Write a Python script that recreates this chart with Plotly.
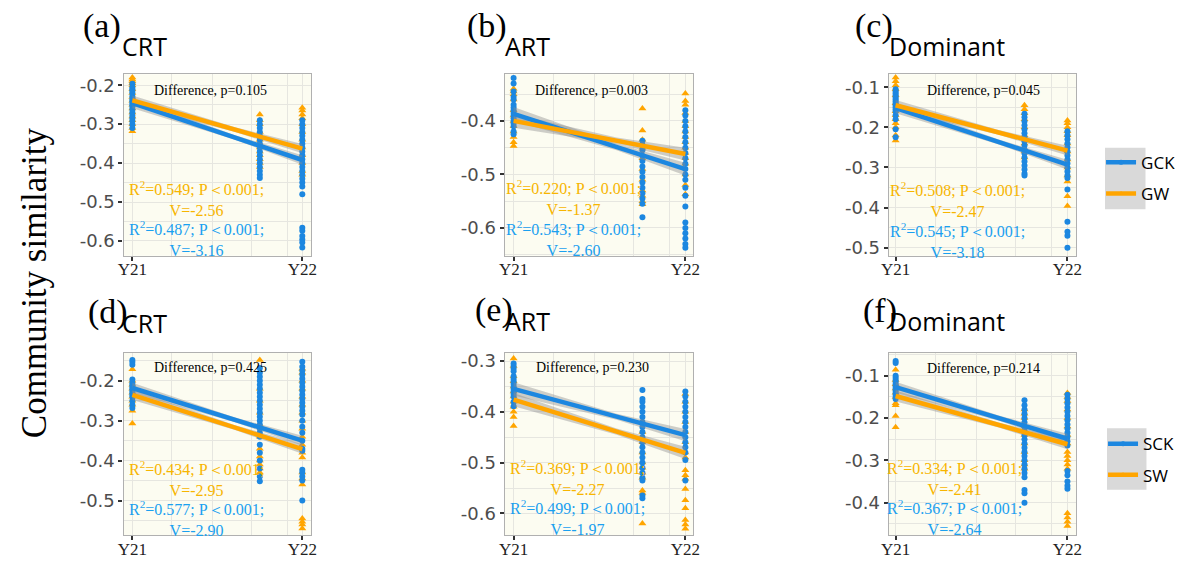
import plotly.graph_objects as go

# ---------------- data ----------------
X_POS = [0.0, 0.75, 1.0]          # sampling times: Y21, intermediate, Y22
X_TICKVALS = [0, 1]
X_TICKTEXT = ["Y21", "Y22"]

# panel (a) CRT, grassland
a_GCK_Y21 = [-0.196, -0.205, -0.21, -0.215, -0.22, -0.228, -0.235, -0.24, -0.245, -0.25, -0.255, -0.262, -0.27, -0.278, -0.285, -0.292, -0.3, -0.31]
a_GCK_MID = [-0.29, -0.3, -0.31, -0.32, -0.33, -0.34, -0.35, -0.36, -0.37, -0.38, -0.39, -0.4, -0.41, -0.42, -0.43, -0.438]
a_GCK_Y22 = [-0.29, -0.30, -0.31, -0.32, -0.33, -0.34, -0.35, -0.36, -0.37, -0.38, -0.39, -0.40, -0.41, -0.42, -0.43, -0.44, -0.45, -0.46, -0.48, -0.566, -0.574, -0.587, -0.596, -0.604, -0.617]
a_GW_Y21 = [-0.18, -0.185, -0.19, -0.195, -0.2, -0.21, -0.22, -0.23, -0.24, -0.25, -0.26, -0.27, -0.28, -0.29, -0.3, -0.31, -0.318]
a_GW_MID = [-0.275, -0.29, -0.30, -0.32, -0.34, -0.35, -0.36, -0.37, -0.38, -0.39, -0.40, -0.41]
a_GW_Y22 = [-0.258, -0.265, -0.275, -0.285, -0.3, -0.32, -0.34, -0.36, -0.38, -0.4, -0.42, -0.43]
a_GCK_fit = [-0.246, -0.392]
a_GW_fit = [-0.239, -0.363]

# panel (b) ART, grassland
b_GCK_Y21 = [-0.32, -0.33, -0.345, -0.355, -0.36, -0.37, -0.375, -0.38, -0.385, -0.39, -0.395, -0.4, -0.405, -0.41, -0.42, -0.425]
b_GCK_MID = [-0.437, -0.445, -0.455, -0.465, -0.475, -0.485, -0.495, -0.505, -0.515, -0.525, -0.535, -0.545, -0.555, -0.58]
b_GCK_Y22 = [-0.38, -0.39, -0.40, -0.41, -0.42, -0.43, -0.44, -0.45, -0.46, -0.47, -0.48, -0.49, -0.5, -0.51, -0.525, -0.54, -0.56, -0.59, -0.6, -0.61, -0.62, -0.63, -0.637]
b_GW_Y21 = [-0.34, -0.345, -0.35, -0.36, -0.38, -0.39, -0.4, -0.41, -0.42, -0.43, -0.44, -0.447]
b_GW_MID = [-0.377, -0.418, -0.435, -0.45, -0.47, -0.49, -0.51, -0.53, -0.54, -0.55, -0.556]
b_GW_Y22 = [-0.349, -0.363, -0.37, -0.385, -0.4, -0.41, -0.42, -0.43, -0.44, -0.45, -0.46, -0.47, -0.48, -0.5, -0.52, -0.537]
b_GCK_fit = [-0.387, -0.49]
b_GW_fit = [-0.400, -0.462]

# panel (c) Dominant, grassland
c_GCK_Y21 = [-0.105, -0.11, -0.115, -0.12, -0.125, -0.13, -0.135, -0.14, -0.145, -0.15, -0.155, -0.16, -0.17, -0.18, -0.205, -0.225]
c_GCK_MID = [-0.166, -0.175, -0.185, -0.195, -0.205, -0.215, -0.225, -0.235, -0.245, -0.255, -0.265, -0.275, -0.285, -0.295, -0.305, -0.315, -0.32]
c_GCK_Y22 = [-0.21, -0.22, -0.23, -0.24, -0.25, -0.26, -0.27, -0.28, -0.29, -0.3, -0.31, -0.32, -0.326, -0.355, -0.435, -0.46, -0.47, -0.5]
c_GW_Y21 = [-0.076, -0.085, -0.095, -0.105, -0.12, -0.14, -0.16, -0.17, -0.18, -0.19, -0.2, -0.22, -0.233]
c_GW_MID = [-0.145, -0.155, -0.165, -0.18, -0.2, -0.22, -0.24, -0.26, -0.275]
c_GW_Y22 = [-0.183, -0.19, -0.2, -0.21, -0.22, -0.24, -0.26, -0.28, -0.3, -0.32, -0.335, -0.372, -0.396]
c_GCK_fit = [-0.152, -0.293]
c_GW_fit = [-0.145, -0.258]

# panel (d) CRT, shrubland
d_SCK_Y21 = [-0.148, -0.153, -0.16, -0.197, -0.205, -0.21, -0.215, -0.22, -0.225, -0.23, -0.235, -0.24, -0.25, -0.26, -0.268]
d_SCK_MID = [-0.168, -0.18, -0.19, -0.2, -0.21, -0.22, -0.23, -0.24, -0.25, -0.26, -0.27, -0.28, -0.29, -0.3, -0.31, -0.32, -0.33, -0.34, -0.36, -0.38, -0.40, -0.42, -0.44, -0.452]
d_SCK_Y22 = [-0.152, -0.165, -0.175, -0.185, -0.195, -0.205, -0.215, -0.225, -0.235, -0.245, -0.255, -0.265, -0.275, -0.285, -0.3, -0.315, -0.33, -0.35, -0.37, -0.375, -0.423, -0.43, -0.44, -0.45, -0.5]
d_SW_Y21 = [-0.171, -0.2, -0.21, -0.22, -0.23, -0.24, -0.25, -0.26, -0.275, -0.307]
d_SW_MID = [-0.148, -0.22, -0.25, -0.28, -0.31, -0.34, -0.37, -0.39, -0.40, -0.41, -0.42, -0.43]
d_SW_Y22 = [-0.17, -0.18, -0.2, -0.22, -0.24, -0.26, -0.28, -0.3, -0.32, -0.34, -0.36, -0.38, -0.392, -0.43, -0.445, -0.46, -0.545, -0.553, -0.56, -0.57]
d_SCK_fit = [-0.218, -0.350]
d_SW_fit = [-0.235, -0.371]

# panel (e) ART, shrubland
e_SCK_Y21 = [-0.305, -0.31, -0.315, -0.32, -0.33, -0.335, -0.34, -0.345, -0.35, -0.355, -0.36, -0.365, -0.37, -0.38, -0.389]
e_SCK_MID = [-0.357, -0.375, -0.38, -0.39, -0.40, -0.41, -0.42, -0.43, -0.44, -0.45, -0.46, -0.47, -0.48, -0.49, -0.5, -0.51, -0.52, -0.53, -0.535, -0.565, -0.57]
e_SCK_Y22 = [-0.36, -0.37, -0.38, -0.39, -0.40, -0.41, -0.42, -0.43, -0.44, -0.45, -0.46, -0.47, -0.48, -0.495, -0.535]
e_SW_Y21 = [-0.295, -0.31, -0.33, -0.34, -0.35, -0.36, -0.37, -0.38, -0.39, -0.40, -0.41, -0.428]
e_SW_MID = [-0.44, -0.46, -0.48, -0.5, -0.51, -0.52, -0.53, -0.555, -0.56, -0.62]
e_SW_Y22 = [-0.365, -0.38, -0.4, -0.42, -0.44, -0.46, -0.48, -0.49, -0.515, -0.525, -0.532, -0.552, -0.574, -0.59, -0.613, -0.622, -0.63]
e_SCK_fit = [-0.355, -0.446]
e_SW_fit = [-0.376, -0.481]

# panel (f) Dominant, shrubland
f_SCK_Y21 = [-0.065, -0.07, -0.1, -0.105, -0.11, -0.115, -0.12, -0.125, -0.13, -0.135, -0.14, -0.145, -0.15, -0.155]
f_SCK_MID = [-0.158, -0.17, -0.18, -0.19, -0.2, -0.21, -0.22, -0.23, -0.24, -0.25, -0.26, -0.27, -0.28, -0.29, -0.3, -0.31, -0.32, -0.33, -0.34, -0.37, -0.378, -0.4]
f_SCK_Y22 = [-0.145, -0.155, -0.165, -0.175, -0.185, -0.195, -0.205, -0.215, -0.225, -0.235, -0.245, -0.255, -0.265, -0.325, -0.335, -0.35, -0.36, -0.367]
f_SW_Y21 = [-0.086, -0.11, -0.12, -0.13, -0.14, -0.15, -0.165, -0.17, -0.195, -0.222]
f_SW_MID = [-0.18, -0.19, -0.2, -0.22, -0.24, -0.26, -0.28, -0.3, -0.31, -0.32]
f_SW_Y22 = [-0.141, -0.15, -0.16, -0.18, -0.2, -0.22, -0.24, -0.26, -0.28, -0.29, -0.3, -0.31, -0.32, -0.425, -0.435, -0.445, -0.455]
f_SCK_fit = [-0.127, -0.249]
f_SW_fit = [-0.148, -0.262]

# confidence band half widths at x = 0, 0.6, 1
CI_HALF = [0.013, 0.006, 0.012]
CI_X = [0.0, 0.6, 1.0]

PANEL_LABELS = ["(a)", "(b)", "(c)", "(d)", "(e)", "(f)"]
PANEL_TITLES = ["CRT", "ART", "Dominant", "CRT", "ART", "Dominant"]
DIFF_P = ["0.105", "0.003", "0.045", "0.425", "0.230", "0.214"]
W_R2 = ["0.549", "0.220", "0.508", "0.434", "0.369", "0.334"]
W_V = ["-2.56", "-1.37", "-2.47", "-2.95", "-2.27", "-2.41"]
CK_R2 = ["0.487", "0.543", "0.545", "0.577", "0.499", "0.367"]
CK_V = ["-3.16", "-2.60", "-3.18", "-2.90", "-1.97", "-2.64"]
Y_TICKS = [
    [-0.2, -0.3, -0.4, -0.5, -0.6],
    [-0.4, -0.5, -0.6],
    [-0.1, -0.2, -0.3, -0.4, -0.5],
    [-0.2, -0.3, -0.4, -0.5],
    [-0.3, -0.4, -0.5, -0.6],
    [-0.1, -0.2, -0.3, -0.4],
]
Y_RANGES = [
    [-0.638, -0.172],
    [-0.652, -0.313],
    [-0.520, -0.068],
    [-0.587, -0.130],
    [-0.643, -0.284],
    [-0.477, -0.046],
]
GROUP_NAMES = [["GCK", "GW"], ["SCK", "SW"]]

CK_DATA = [
    (a_GCK_Y21, a_GCK_MID, a_GCK_Y22, a_GCK_fit),
    (b_GCK_Y21, b_GCK_MID, b_GCK_Y22, b_GCK_fit),
    (c_GCK_Y21, c_GCK_MID, c_GCK_Y22, c_GCK_fit),
    (d_SCK_Y21, d_SCK_MID, d_SCK_Y22, d_SCK_fit),
    (e_SCK_Y21, e_SCK_MID, e_SCK_Y22, e_SCK_fit),
    (f_SCK_Y21, f_SCK_MID, f_SCK_Y22, f_SCK_fit),
]
W_DATA = [
    (a_GW_Y21, a_GW_MID, a_GW_Y22, a_GW_fit),
    (b_GW_Y21, b_GW_MID, b_GW_Y22, b_GW_fit),
    (c_GW_Y21, c_GW_MID, c_GW_Y22, c_GW_fit),
    (d_SW_Y21, d_SW_MID, d_SW_Y22, d_SW_fit),
    (e_SW_Y21, e_SW_MID, e_SW_Y22, e_SW_fit),
    (f_SW_Y21, f_SW_MID, f_SW_Y22, f_SW_fit),
]

# ---------------- styling / layout ----------------
W, H = 1191, 564
BLUE = "#1c87e0"
ORANGE = "#ffa500"
BLUE_TXT = "#1aa0f0"
ORANGE_TXT = "#f7b500"
PANEL_BG = "#fcfcf1"
GRID = "#e6e6e0"
SERIF = "Liberation Serif, Times New Roman, serif"
SANS = "Open Sans, Liberation Sans, sans-serif"
TICK_SANS = "DejaVu Sans, Liberation Sans, sans-serif"

COLS = [(117, 307), (503, 694), (892, 1082)]
ROWS = [(72, 255), (353, 537)]
X_RANGES = [[-0.052, 1.052], [-0.052, 1.046], [-0.040, 1.052]]
TITLE_POS = [  # (label_x, label_y, title_x, title_y)
    (74, 23, 113, 43), (463, 23, 501, 43), (856, 23, 890, 43),
    (79, 312, 113, 323), (471, 310, 501, 321), (864, 311, 890, 321),
]
TEXT_POS = [  # diff (x,y), W text (x, y1), CK text (x, y1)
    (205, 88, 191, 197, 191, 238), (591, 88, 573, 196, 573, 238), (988, 88, 962, 198, 962, 240),
    (205, 368, 191, 480, 191, 520), (592, 368, 577, 479, 577, 519), (988, 369, 959, 479, 959, 519),
]


def px(x):
    return x / W


def py(y):
    return 1 - y / H


fig = go.Figure()
annotations = []
shapes = []


def interp(fit, x):
    return fit[0] + (fit[1] - fit[0]) * x


for i in range(6):
    r, c = divmod(i, 3)
    n = i + 1
    xa = "x" if n == 1 else f"x{n}"
    ya = "y" if n == 1 else f"y{n}"
    ck = CK_DATA[i]
    w = W_DATA[i]
    # points: orange first, blue on top
    for series, col, sym, size in ((w, ORANGE, "triangle-up", 7), (ck, BLUE, "circle", 6)):
        xs, ys = [], []
        for k in range(3):
            xs += [X_POS[k]] * len(series[k])
            ys += series[k]
        fig.add_trace(go.Scatter(x=xs, y=ys, mode="markers", xaxis=xa, yaxis=ya,
                                 marker=dict(color=col, symbol=sym, size=size, line=dict(width=0)),
                                 showlegend=False, hoverinfo="skip"))
    # confidence bands
    for series in (ck, w):
        fit = series[3]
        up = [interp(fit, x) + h for x, h in zip(CI_X, CI_HALF)]
        lo = [interp(fit, x) - h for x, h in zip(CI_X, CI_HALF)]
        fig.add_trace(go.Scatter(x=CI_X + CI_X[::-1], y=up + lo[::-1], mode="lines", fill="toself",
                                 fillcolor="rgba(140,140,140,0.42)", line=dict(width=0),
                                 xaxis=xa, yaxis=ya, showlegend=False, hoverinfo="skip"))
    # fitted lines
    for series, col in ((ck, BLUE), (w, ORANGE)):
        fit = series[3]
        fig.add_trace(go.Scatter(x=[X_POS[0], X_POS[2]], y=fit, mode="lines", xaxis=xa, yaxis=ya,
                                 line=dict(color=col, width=4.5), showlegend=False, hoverinfo="skip"))

    x0, x1 = COLS[c]
    y0, y1 = ROWS[r]
    xkey = "xaxis" if n == 1 else f"xaxis{n}"
    ykey = "yaxis" if n == 1 else f"yaxis{n}"
    yt = Y_TICKS[i]
    minor_y = [v - 0.05 for v in yt] + [yt[-1] - 0.05, yt[0] + 0.05]
    fig.layout[xkey] = dict(
        domain=[px(x0), px(x1)], range=X_RANGES[c], anchor=ya,
        tickmode="array", tickvals=X_TICKVALS, ticktext=X_TICKTEXT,
        ticks="outside", ticklen=4, tickwidth=2, tickcolor="#333333",
        tickfont=dict(family=SERIF, size=17, color="#222222"),
        showgrid=True, gridcolor=GRID, gridwidth=1.2,
        minor=dict(tickmode="array", tickvals=[0.23, 0.47, 0.70, 0.91], showgrid=True,
                   gridcolor=GRID, gridwidth=1, ticklen=0),
        showline=True, mirror=True, linecolor="#b0b0b0", linewidth=1.3, zeroline=False,
        fixedrange=True,
    )
    try:
        fig.layout[xkey].ticklabelstandoff = -6
    except Exception:
        pass
    fig.layout[ykey] = dict(
        domain=[py(y1), py(y0)], range=Y_RANGES[i], anchor=xa,
        tickmode="array", tickvals=yt, ticktext=[f"{v:.1f}" for v in yt],
        ticks="outside", ticklen=4, tickwidth=2, tickcolor="#333333",
        tickfont=dict(family=TICK_SANS, size=18, color="#4d4d4d"),
        showgrid=True, gridcolor=GRID, gridwidth=1.2,
        minor=dict(tickmode="array", tickvals=minor_y, showgrid=True, gridcolor=GRID,
                   gridwidth=1, ticklen=0),
        showline=True, mirror=True, linecolor="#b0b0b0", linewidth=1.3, zeroline=False,
        fixedrange=True,
    )
    shapes.append(dict(type="rect", xref=f"{xa} domain", yref=f"{ya} domain", x0=0, x1=1, y0=0, y1=1,
                       fillcolor=PANEL_BG, line=dict(width=0), layer="below"))

    lx, ly, tx, ty = TITLE_POS[i]
    annotations.append(dict(text=PANEL_LABELS[i], x=px(lx), y=py(ly), xref="paper", yref="paper",
                            xanchor="left", yanchor="middle", showarrow=False,
                            font=dict(family=SERIF, size=34, color="black")))
    annotations.append(dict(text=PANEL_TITLES[i], x=px(tx), y=py(ty), xref="paper", yref="paper",
                            xanchor="left", yanchor="middle", showarrow=False,
                            font=dict(family=SANS, size=25, color="black")))
    dx, dy, wx, wy, cx, cy = TEXT_POS[i]
    annotations.append(dict(text=f"Difference, p={DIFF_P[i]}", x=px(dx), y=py(dy), xref="paper", yref="paper",
                            xanchor="center", yanchor="middle", showarrow=False,
                            font=dict(family=SERIF, size=14, color="black")))
    annotations.append(dict(text=f"R<sup>2</sup>=<span>{W_R2[i]}; P＜0.001;</span><br>V={W_V[i]}",
                            x=px(wx), y=py(wy), xref="paper", yref="paper",
                            xanchor="center", yanchor="middle", showarrow=False, align="center",
                            font=dict(family=SERIF, size=16, color=ORANGE_TXT)))
    annotations.append(dict(text=f"R<sup>2</sup>=<span>{CK_R2[i]}; P＜0.001;</span><br>V={CK_V[i]}",
                            x=px(cx), y=py(cy), xref="paper", yref="paper",
                            xanchor="center", yanchor="middle", showarrow=False, align="center",
                            font=dict(family=SERIF, size=16, color=BLUE_TXT)))

# y axis title
annotations.append(dict(text="Community similarity", x=px(27), y=py(282), xref="paper", yref="paper",
                        xanchor="center", yanchor="middle", showarrow=False, textangle=-90,
                        font=dict(family=SERIF, size=35, color="black")))

# legends (legend-only traces)
for r, lg in enumerate(["legend", "legend2"]):
    for name, col, sym in ((GROUP_NAMES[r][0], BLUE, "circle"), (GROUP_NAMES[r][1], ORANGE, "triangle-up")):
        fig.add_trace(go.Scatter(x=[None], y=[None], mode="lines+markers", name=name, legend=lg,
                                 legendgroup=name,
                                 line=dict(color=col, width=4.5),
                                 marker=dict(color=col, symbol=sym, size=5), hoverinfo="skip"))

shapes.append(dict(type="rect", xref="paper", yref="paper", x0=px(1111), x1=px(1152), y0=py(208), y1=py(146),
                   fillcolor="#d9d9d9", line=dict(width=0), layer="below"))
shapes.append(dict(type="rect", xref="paper", yref="paper", x0=px(1113), x1=px(1153), y0=py(491), y1=py(429),
                   fillcolor="#d9d9d9", line=dict(width=0), layer="below"))

legend_style = dict(xanchor="left", yanchor="top", bgcolor="rgba(0,0,0,0)", itemwidth=30,
                    font=dict(family=SANS, size=17, color="black"), tracegroupgap=6)
fig.update_layout(
    width=W, height=H, margin=dict(l=0, r=0, t=0, b=0), autosize=False,
    paper_bgcolor="white", plot_bgcolor="rgba(0,0,0,0)",
    showlegend=True,
    legend=dict(x=px(1107), y=py(143), **legend_style),
    legend2=dict(x=px(1109), y=py(427), **legend_style),
    annotations=annotations, shapes=shapes,
    font=dict(family=SERIF),
)

fig.write_html("out.html",
               config={"displayModeBar": False, "responsive": False},
               default_width="1191px", default_height="564px",
               post_script="document.body.style.margin='0px';document.body.style.padding='0px';")
